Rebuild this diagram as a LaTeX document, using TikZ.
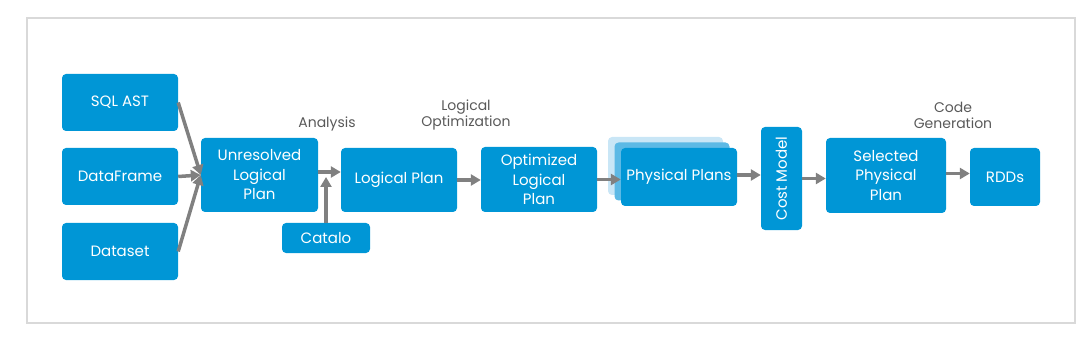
\documentclass[tikz,border=0pt]{standalone}
\usepackage{fontspec}
\setmainfont{Poppins}
\usepackage{tikz}
\usetikzlibrary{arrows.meta,positioning}
\definecolor{sparkblue}{HTML}{0096D6}
\definecolor{midblue}{HTML}{5CB9E5}
\definecolor{paleblue}{HTML}{C9E6F6}
\definecolor{arrgray}{HTML}{808080}
\definecolor{labgray}{HTML}{595959}
\definecolor{framegray}{HTML}{D9D9D9}
\tikzset{blk/.style={fill=sparkblue,rounded corners=4pt,align=center,font=\fontsize{15}{19.5}\selectfont,text=white,inner sep=0pt},
  stackblk/.style={blk,minimum width=115pt,minimum height=58pt},
  steplabel/.style={align=center,font=\fontsize{14}{16}\selectfont,text=labgray},
  arr/.style={-{Triangle[length=10pt,width=11pt]},line width=3.5pt,draw=arrgray}}
\begin{document}
\begin{tikzpicture}[x=1pt,y=-1pt]
\useasboundingbox (0,0) rectangle (1092,339);
\draw[framegray,line width=2.5pt] (27,18) rectangle (1075,323);
% sources
\node[blk,minimum width=116pt,minimum height=57pt] (sql) at (120,102.5) {SQL AST};
\node[blk,minimum width=116pt,minimum height=57pt] (df) at (120,176.5) {DataFrame};
\node[blk,minimum width=116pt,minimum height=57pt] (ds) at (120,251.5) {Dataset};
% pipeline
\node[blk,minimum width=117pt,minimum height=74pt] (unres) at (259.5,175) {Unresolved\\Logical\\Plan};
\node[blk,minimum width=88pt,minimum height=30pt] (cat) at (326,238) {Catalo};
\node[blk,minimum width=116pt,minimum height=64pt] (lp) at (399,180) {Logical Plan};
\node[blk,minimum width=116pt,minimum height=65pt] (olp) at (539,179.5) {Optimized\\Logical\\Plan};
\node[stackblk,fill=paleblue] (physb) at (665.5,166) {};
\node[stackblk,fill=midblue] (physm) at (672,171.5) {};
\node[stackblk,minimum width=116pt] (phys) at (679,177) {Physical Plans};
\node[blk,minimum width=41pt,minimum height=103pt] (cost) at (781.5,178.5) {};
\node[text=white,font=\fontsize{15}{19.5}\selectfont,rotate=90] (costtxt) at (cost.center) {Cost Model};
\node[blk,minimum width=120pt,minimum height=75pt] (sel) at (886,175.5) {Selected\\Physical\\Plan};
\node[blk,minimum width=70pt,minimum height=58pt] (rdd) at (1005,177) {RDDs};
% phase labels
\node[steplabel] (ana) at (327,124) {Analysis};
\node[steplabel] (opt) at (466,115) {Logical\\Optimization};
\node[steplabel] (gen) at (953,115) {Code\\Generation};
% connectors
\draw[arr] (sql.east) -- (unres.west);
\draw[arr] (df.east) -- (unres.west);
\draw[arr] (ds.east) -- (unres.west);
\draw[arr] ([yshift=3pt]unres.east) -- ([yshift=3pt]unres.east -| lp.west);
\draw[arr,shorten >=2pt] (cat.north) -- (cat.north |- unres.east);
\draw[arr] (lp.east) -- (lp.east -| olp.west);
\draw[arr] (olp.east) -- (olp.east -| phys.west);
\draw[arr] ([yshift=2pt]phys.east) -- ([yshift=2pt]phys.east -| cost.west);
\draw[arr] (cost.east) -- (cost.east -| sel.west);
\draw[arr] ([yshift=2pt]sel.east) -- ([yshift=2pt]sel.east -| rdd.west);
\end{tikzpicture}
\end{document}
